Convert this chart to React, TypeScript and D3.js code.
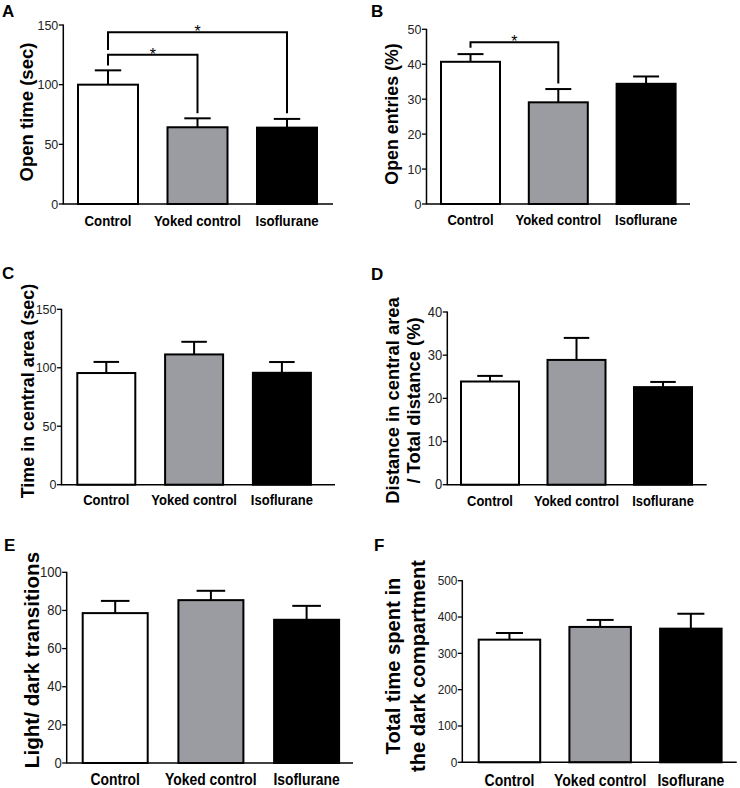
import React from "react";
import * as d3 from "d3";

const categories = ["Control", "Yoked control", "Isoflurane"];
const barColors = ["#ffffff", "#9a9ca2", "#000000"];

const meansA = [100, 64.3, 64];
const semA = [12, 7.5, 7.3];
const ticksA = [0, 50, 100, 150];

const meansB = [40.7, 29.1, 34.4];
const semB = [2.2, 3.8, 2.1];
const ticksB = [0, 10, 20, 30, 40, 50];

const meansC = [95.5, 111.4, 95.7];
const semC = [9.5, 10.8, 9.2];
const ticksC = [0, 50, 100, 150];

const meansD = [23.9, 28.9, 22.6];
const semD = [1.3, 5.1, 1.2];
const ticksD = [0, 10, 20, 30, 40];

const meansE = [78.6, 85.4, 75.1];
const semE = [6.4, 4.9, 7.3];
const ticksE = [0, 20, 40, 60, 80, 100];

const meansF = [337.7, 372.7, 368];
const semF = [18.3, 19.3, 41];
const ticksF = [0, 100, 200, 300, 400, 500];

// significance brackets (values in data units)
const sigA = [
  { from: 0, to: 2, top: 144, left: 129, right: 76 },
  { from: 0, to: 1, top: 125, left: 116, right: 76 },
];
const sigB = [{ from: 0, to: 1, top: 46.3, left: 44.7, right: 34.5 }];

const FONT = "'Liberation Sans', Arial, Helvetica, sans-serif";

type Panel = {
  letter: string;
  lx: number;
  ly: number;
  means: number[];
  sem: number[];
  ticks: number[];
  labels: string[];
  labelX: number[];
  labelY: number;
  labelSize: number;
  axisX: number;
  axisEnd: number;
  yTop: number;
  yBottom: number;
  firstLeft: number;
  step: number;
  barW: number;
  catY: number;
  catSize: number;
  tickSize: number;
  sig?: { from: number; to: number; top: number; left: number; right: number }[];
};

const panels: Panel[] = [
  {
    letter: "A", lx: 2, ly: 17, means: meansA, sem: semA, ticks: ticksA,
    labels: ["Open time (sec)"], labelX: [33], labelY: 112, labelSize: 18.5,
    axisX: 63.3, axisEnd: 333, yTop: 25, yBottom: 204, firstLeft: 78, step: 89.5, barW: 60,
    catY: 225.5, catSize: 13.2, tickSize: 12.5, sig: sigA,
  },
  {
    letter: "B", lx: 371, ly: 17, means: meansB, sem: semB, ticks: ticksB,
    labels: ["Open entries (%)"], labelX: [398], labelY: 114, labelSize: 17.8,
    axisX: 426.5, axisEnd: 690, yTop: 29.3, yBottom: 204, firstLeft: 441, step: 87.8, barW: 59,
    catY: 225, catSize: 13, tickSize: 12.5, sig: sigB,
  },
  {
    letter: "C", lx: 2, ly: 279, means: meansC, sem: semC, ticks: ticksC,
    labels: ["Time in central area (sec)"], labelX: [33.5], labelY: 391, labelSize: 17.9,
    axisX: 61.5, axisEnd: 335, yTop: 309.3, yBottom: 484.7, firstLeft: 77.3, step: 87.8, barW: 58,
    catY: 505, catSize: 13, tickSize: 12.5,
  },
  {
    letter: "D", lx: 371, ly: 280, means: meansD, sem: semD, ticks: ticksD,
    labels: ["Distance in central area", "/ Total distance (%)"], labelX: [398.5, 420], labelY: 400.5, labelSize: 18.4,
    axisX: 447.3, axisEnd: 706.7, yTop: 312, yBottom: 484.7, firstLeft: 461, step: 86.5, barW: 58,
    catY: 506, catSize: 12.9, tickSize: 13,
  },
  {
    letter: "E", lx: 4, ly: 550.5, means: meansE, sem: semE, ticks: ticksE,
    labels: ["Light/ dark transitions"], labelX: [38.5], labelY: 660, labelSize: 20.6,
    axisX: 66.7, axisEnd: 353, yTop: 572.3, yBottom: 763, firstLeft: 82.7, step: 95.7, barW: 65,
    catY: 785, catSize: 13.9, tickSize: 13,
  },
  {
    letter: "F", lx: 374, ly: 550.5, means: meansF, sem: semF, ticks: ticksF,
    labels: ["Total time spent in", "the dark compartment"], labelX: [399.5, 424.5], labelY: 666, labelSize: 20.2,
    axisX: 462.3, axisEnd: 736.7, yTop: 580.7, yBottom: 762.3, firstLeft: 478.7, step: 90.7, barW: 61.5,
    catY: 786, catSize: 14, tickSize: 11.8,
  },
];

function PanelView({ p }: { p: Panel }) {
  const maxT = p.ticks[p.ticks.length - 1];
  const y = d3.scaleLinear().domain([0, maxT]).range([p.yBottom, p.yTop]);
  const pi = 1 - p.barW / p.step;
  const start = p.firstLeft - (p.step * pi) / 2;
  const x = d3
    .scaleBand<string>()
    .domain(categories)
    .range([start, start + 3 * p.step])
    .paddingInner(pi)
    .paddingOuter(pi / 2);
  const bw = x.bandwidth();
  const cx = (i: number) => (x(categories[i]) as number) + bw / 2;
  const capW = bw * 0.44;
  return (
    <g>
      <text x={p.lx} y={p.ly} fontSize={17} fontWeight="bold" fontFamily={FONT}>
        {p.letter}
      </text>
      {p.labels.map((l, i) => (
        <text
          key={i}
          transform={`translate(${p.labelX[i]},${p.labelY}) rotate(-90)`}
          textAnchor="middle"
          fontSize={p.labelSize}
          fontWeight="bold"
          fontFamily={FONT}
        >
          {l}
        </text>
      ))}
      {p.means.map((m, i) => (
        <g key={"e" + i} stroke="#000" strokeWidth={2}>
          <line x1={cx(i)} x2={cx(i)} y1={y(m)} y2={y(m + p.sem[i])} />
          <line x1={cx(i) - capW / 2} x2={cx(i) + capW / 2} y1={y(m + p.sem[i])} y2={y(m + p.sem[i])} />
        </g>
      ))}
      {p.means.map((m, i) => (
        <rect
          key={"b" + i}
          x={x(categories[i])}
          y={y(m)}
          width={bw}
          height={y(0) - y(m)}
          fill={barColors[i]}
          stroke="#000"
          strokeWidth={2}
        />
      ))}
      <line x1={p.axisX} x2={p.axisX} y1={y(maxT) - 0.5} y2={y(0)} stroke="#000" strokeWidth={1.5} />
      {p.ticks.map((t) => (
        <g key={"t" + t}>
          <line x1={p.axisX - 4.5} x2={p.axisX} y1={y(t)} y2={y(t)} stroke="#000" strokeWidth={1.3} />
          <text
            transform={`translate(${p.axisX - 5},${y(t) + p.tickSize * 0.36}) scale(1,1.08)`}
            textAnchor="end"
            fontSize={p.tickSize}
            fontFamily={FONT}
            fill="#222"
          >
            {t}
          </text>
        </g>
      ))}
      <line x1={p.axisX - 0.7} x2={p.axisEnd} y1={y(0)} y2={y(0)} stroke="#000" strokeWidth={1.5} />
      {categories.map((c, i) => (
        <text
          key={"c" + i}
          transform={`translate(${cx(i)},${p.catY}) scale(1,1.15)`}
          textAnchor="middle"
          fontSize={p.catSize}
          fontWeight="bold"
          fontFamily={FONT}
        >
          {c}
        </text>
      ))}
      {(p.sig || []).map((s, k) => (
        <g key={"s" + k}>
          <path
            d={`M${cx(s.from)},${y(s.left)}V${y(s.top)}H${cx(s.to)}V${y(s.right)}`}
            fill="none"
            stroke="#000"
            strokeWidth={2}
          />
          <text
            x={(cx(s.from) + cx(s.to)) / 2}
            y={y(s.top) + 5}
            textAnchor="middle"
            fontSize={16}
            fontFamily={FONT}
          >
            *
          </text>
        </g>
      ))}
    </g>
  );
}

export default function App() {
  return (
    <svg
      width={740}
      height={788}
      style={{ position: "absolute", left: 0, top: 0, background: "#fff" }}
    >
      <rect width={740} height={788} fill="#fff" />
      {panels.map((p) => (
        <PanelView key={p.letter} p={p} />
      ))}
    </svg>
  );
}
